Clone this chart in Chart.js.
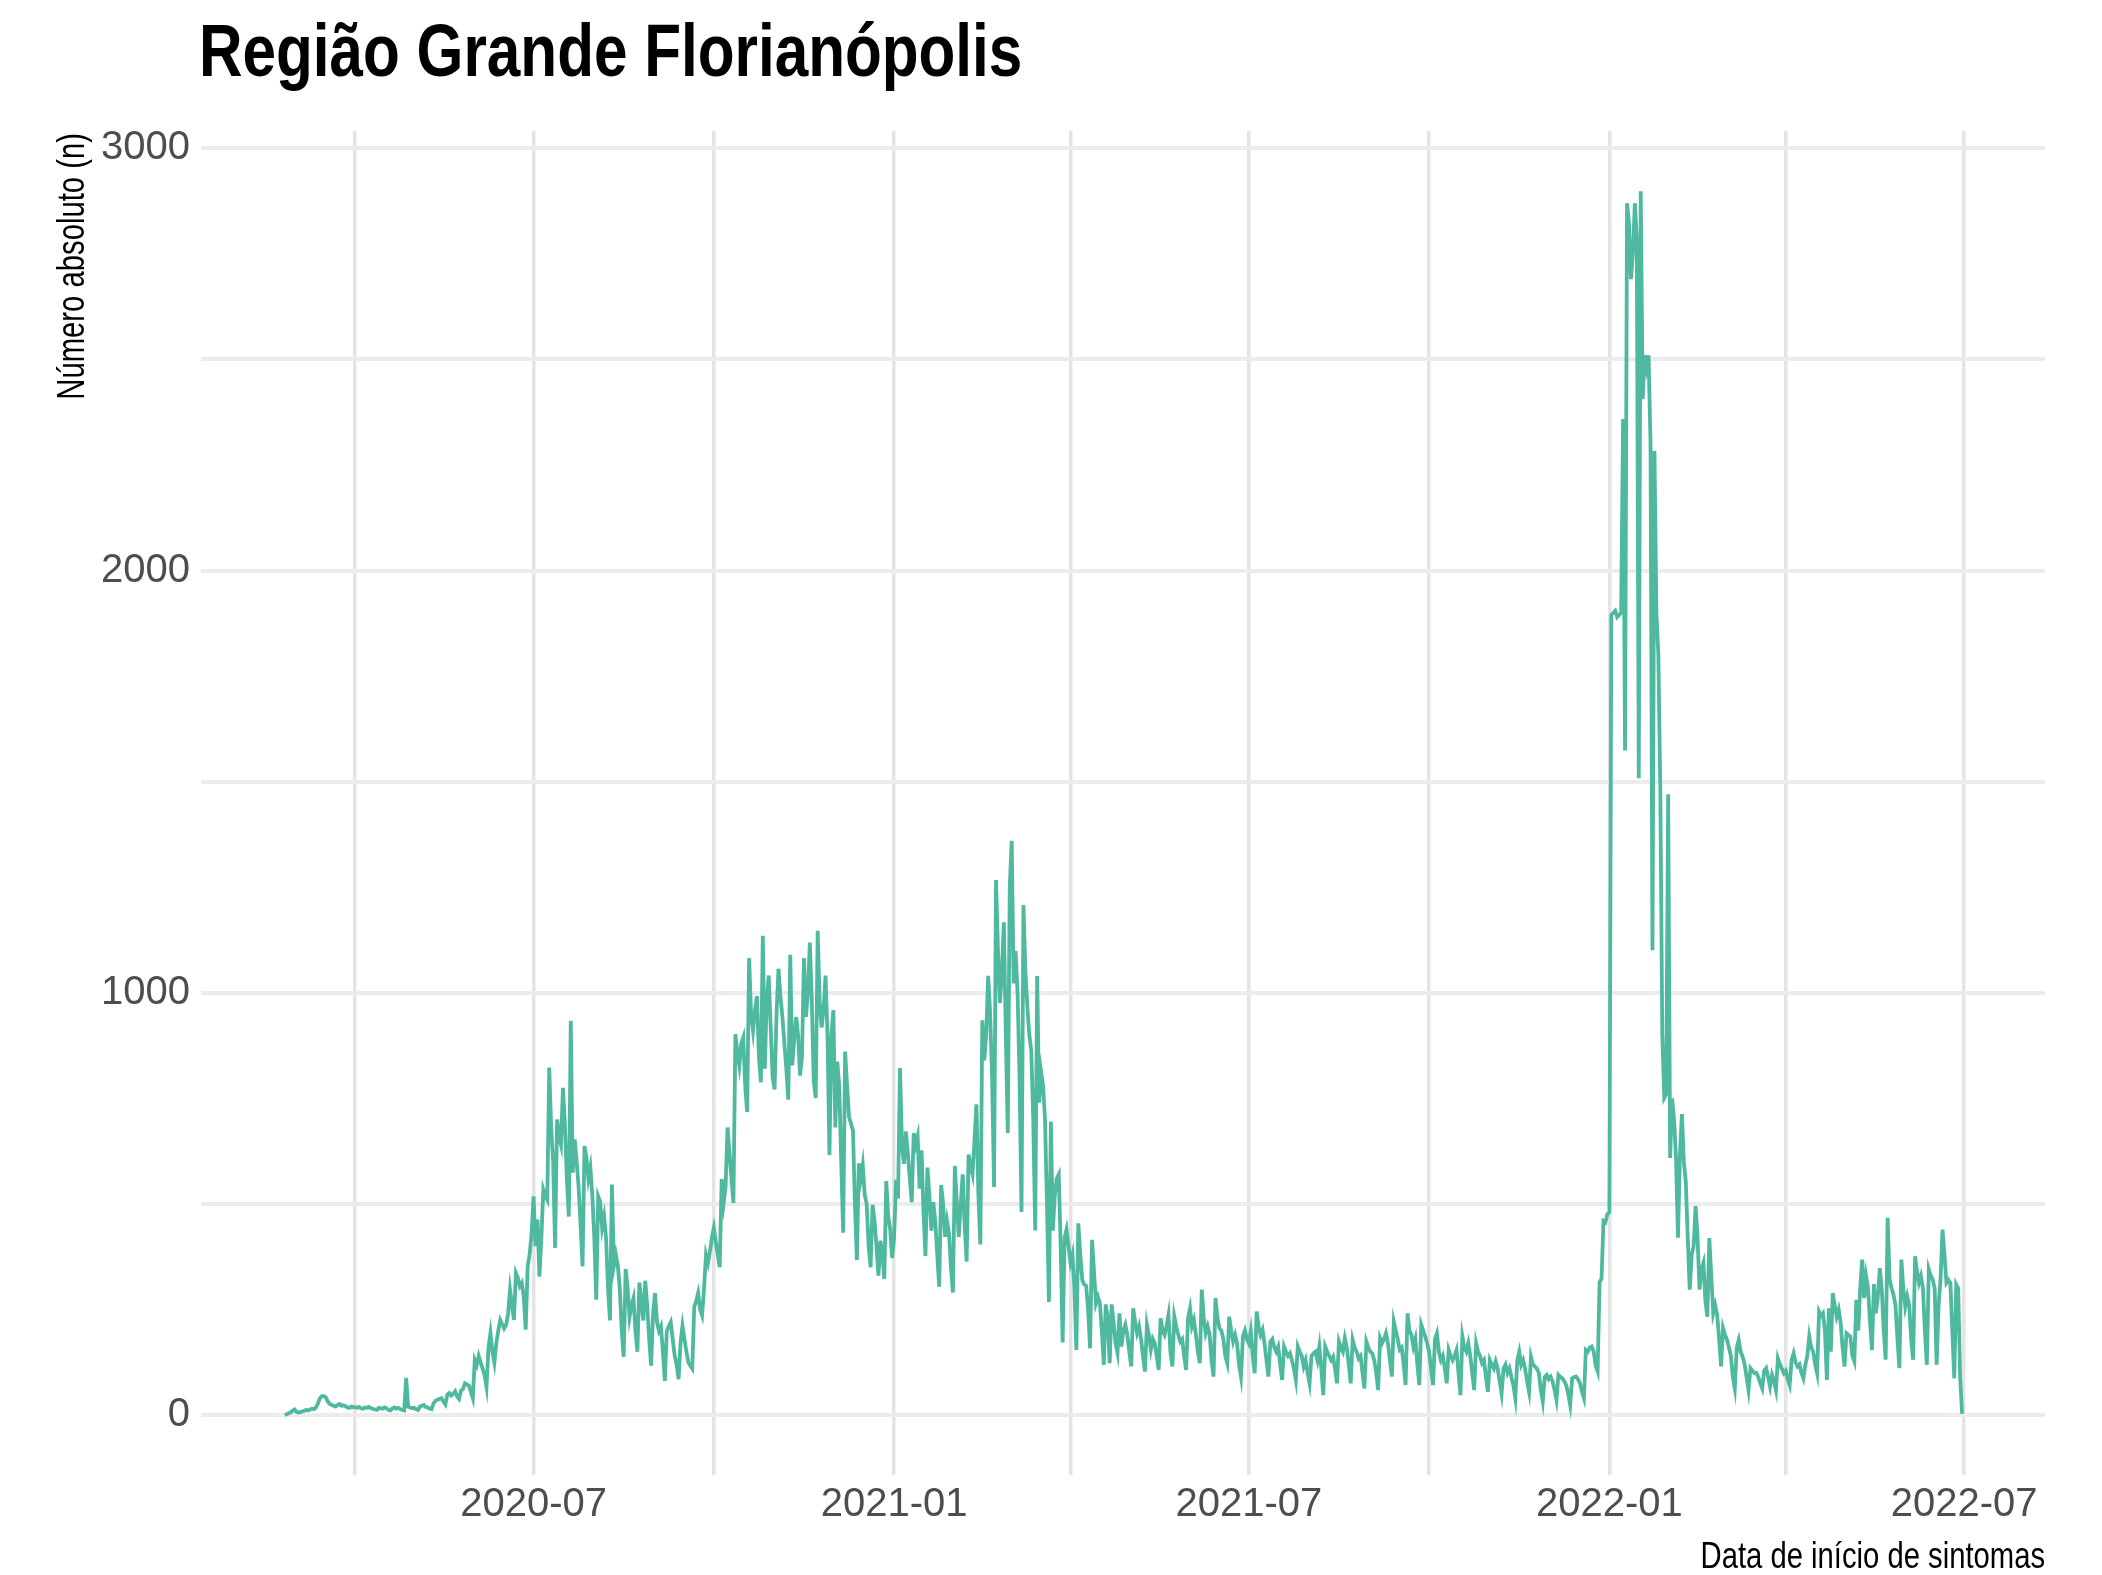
<!DOCTYPE html>
<html lang="pt-BR">
<head>
<meta charset="utf-8">
<title>Região Grande Florianópolis</title>
<script src="https://cdn.jsdelivr.net/npm/chart.js@4.4.1/dist/chart.umd.min.js"></script>
<style>
  html, body { margin: 0; padding: 0; background: #fff; }
  #grafico { display: block; width: 2102px; height: 1575px; }
</style>
</head>
<body>
<canvas id="grafico" width="2102" height="1575"></canvas>
<script>
// casos diarios por data de inicio de sintomas, a partir de 2020-02-25 (uma linha = uma semana seg..dom)
const inicio = '2020-02-25';
const casos = [
  0, 2, 4, 6, 10, 13,
  8, 6, 7, 9, 10, 12, 11,
  13, 15, 14, 18, 28, 40, 45,
  45, 42, 32, 26, 24, 22, 20,
  24, 26, 22, 23, 21, 18, 17,
  20, 19, 18, 17, 19, 16, 15,
  18, 17, 19, 16, 15, 13, 12,
  17, 16, 15, 18, 16, 12, 11,
  16, 18, 15, 17, 14, 12, 11,
  88, 20, 18, 16, 17, 14, 12,
  20, 22, 24, 19, 18, 15, 14,
  28, 34, 36, 38, 40, 32, 25,
  48, 52, 46, 50, 56, 44, 38,
  58, 62, 75, 72, 70, 55, 40,
  130, 118, 140, 125, 110, 95, 67,
  160, 194, 150, 124, 170, 200, 225,
  215, 205, 213, 240, 297, 260, 225,
  336, 325, 305, 313, 280, 202, 352,
  380, 430, 518, 400, 463, 328, 420,
  534, 520, 510, 823, 680, 600, 396,
  700, 660, 640, 775, 690, 560, 470,
  934, 574, 653, 600, 540, 450, 352,
  637, 610, 560, 586, 520, 420, 273,
  518, 505, 444, 470, 420, 300, 224,
  546, 354, 380, 354, 300, 200, 138,
  346, 300, 232, 260, 277, 200, 150,
  314, 270, 224, 318, 260, 180, 117,
  240, 289, 220, 199, 210, 150, 81,
  199, 210, 220, 180, 141, 120, 85,
  170, 211, 180, 150, 125, 117, 110,
  256, 270, 289, 250, 236, 300, 379,
  360, 387, 420, 444, 410, 380, 350,
  559, 502, 540, 681, 620, 560, 502,
  902, 860, 828, 880, 894, 780, 718,
  1082, 950, 910, 960, 992, 850, 788,
  1135, 820, 980, 1041, 920, 800, 771,
  950, 1057, 990, 943, 880, 820, 747,
  1090, 828, 890, 943, 900, 804, 850,
  1082, 943, 1000, 1119, 980, 790, 751,
  1147, 980, 918, 960, 1041, 900, 616,
  900, 959, 681, 837, 780, 600, 432,
  861, 780, 706, 690, 674, 500, 367,
  596, 560, 592, 522, 500, 400, 350,
  498, 460, 400, 330, 413, 380, 322,
  554, 470, 440, 372, 420, 557, 513,
  822, 640, 595, 672, 620, 560, 504,
  668, 640, 660, 536, 627, 480, 377,
  586, 520, 437, 504, 460, 380, 304,
  545, 500, 422, 460, 430, 350, 290,
  590, 500, 422, 500, 570, 450, 363,
  617, 590, 570, 650, 736, 520, 404,
  935, 840, 900, 1040, 950, 800, 540,
  1267, 1100, 976, 1050, 1167, 900, 668,
  1250, 1360, 1022, 1099, 1000, 800, 481,
  1208, 1050, 967, 900, 863, 700, 437,
  1040, 740, 813, 780, 700, 500, 268,
  695, 437, 520, 560, 570, 400, 172,
  420, 440, 400, 361, 380, 300, 154,
  454, 380, 320, 309, 306, 250, 158,
  415, 340, 265, 280, 265, 200, 119,
  262, 230, 123, 262, 220, 170, 147,
  241, 162, 200, 214, 190, 150, 115,
  253, 220, 194, 210, 180, 140, 103,
  214, 190, 155, 180, 170, 140, 107,
  229, 200, 190, 210, 237, 150, 115,
  233, 210, 190, 174, 180, 140, 107,
  230, 253, 210, 225, 190, 150, 123,
  297, 230, 194, 210, 190, 130, 91,
  277, 230, 206, 200, 180, 140, 123,
  233, 200, 174, 190, 170, 120, 91,
  186, 200, 180, 170, 198, 140, 99,
  245, 210, 190, 202, 170, 130, 91,
  174, 180, 160, 150, 162, 120, 83,
  162, 150, 140, 146, 130, 110, 83,
  162, 150, 140, 115, 130, 100, 75,
  140, 146, 150, 130, 162, 110, 47,
  162, 150, 140, 130, 138, 110, 75,
  174, 160, 150, 182, 160, 120, 75,
  178, 160, 150, 134, 140, 100, 63,
  174, 160, 150, 146, 130, 100, 59,
  182, 170, 180, 194, 170, 130, 91,
  221, 200, 180, 155, 160, 120, 71,
  241, 200, 190, 162, 180, 120, 71,
  214, 200, 186, 170, 150, 110, 71,
  180, 194, 150, 130, 140, 110, 75,
  154, 140, 130, 140, 154, 100, 47,
  186, 160, 150, 170, 140, 100, 59,
  170, 150, 140, 123, 130, 90, 55,
  130, 119, 110, 127, 110, 80, 51,
  111, 120, 100, 111, 90, 70, 40,
  130, 150, 119, 130, 110, 80, 55,
  138, 120, 115, 110, 100, 60, 32,
  90, 95, 85, 91, 80, 60, 36,
  95, 90, 87, 80, 70, 50, 24,
  87, 90, 91, 85, 75, 55, 40,
  154, 150, 160, 162, 150, 117, 103,
  315, 323, 460, 457, 476, 480, 1895,
  1900, 1905, 1890, 1895, 1900, 2359, 1574,
  2870, 2823, 2690, 2750, 2870, 2785, 1508,
  2898, 2406, 2510, 2480, 2510, 2300, 1101,
  2283, 1900, 1800, 1479, 900, 751, 760,
  1470, 609, 750, 700, 609, 420, 613,
  713, 600, 552, 420, 297, 380, 400,
  495, 420, 297, 344, 360, 270, 233,
  419, 330, 241, 260, 237, 180, 115,
  206, 190, 178, 160, 140, 90, 63,
  160, 178, 150, 138, 120, 90, 59,
  111, 105, 99, 100, 90, 75, 63,
  105, 111, 90, 67, 95, 80, 59,
  134, 120, 110, 99, 105, 85, 71,
  130, 146, 125, 115, 120, 100, 87,
  119, 140, 186, 160, 150, 120, 99,
  245, 235, 241, 200, 83, 253, 150,
  289, 260, 233, 250, 220, 160, 115,
  194, 190, 186, 140, 127, 273, 200,
  300, 368, 277, 329, 300, 220, 154,
  310, 241, 280, 348, 300, 200, 131,
  467, 321, 300, 285, 260, 180, 111,
  368, 300, 257, 281, 260, 180, 131,
  376, 340, 313, 329, 300, 200, 119,
  345, 330, 321, 300, 119, 260, 321,
  439, 380, 313, 320, 313, 200, 87,
  309, 300, 90, 3
];

const datasMarcasX = ['2020-04-01', '2020-07-01', '2020-10-01', '2021-01-01', '2021-04-01',
  '2021-07-01', '2021-10-01', '2022-01-01', '2022-04-01', '2022-07-01'];
const rotulosX = ['', '2020-07', '', '2021-01', '', '2021-07', '', '2022-01', '', '2022-07'];
const marcasY = [0, 500, 1000, 1500, 2000, 2500, 3000];
const rotulosY = ['0', '', '1000', '', '2000', '', '3000'];

const titulo = 'Região Grande Florianópolis';
const tituloX = 'Data de início de sintomas';
const tituloY = 'Número absoluto (n)';

const fonteNormal = "'Liberation Sans', Arial, sans-serif";

function diasDesde(data) {
    return Math.round((Date.parse(data) - Date.parse(inicio)) / 86400000);
}

const marcasX = datasMarcasX.map(diasDesde);
const pontos = casos.map((v, i) => ({ x: i, y: v }));

// sem fonte estreita instalada: titulos desenhados com escala horizontal
const textosEstreitos = {
    id: 'textosEstreitos',
    afterDraw(chart) {
        const { ctx, chartArea } = chart;
        ctx.save();
        ctx.fillStyle = '#000';
        ctx.textBaseline = 'alphabetic';

        ctx.save();
        ctx.font = 'bold 74px ' + fonteNormal;
        ctx.textAlign = 'left';
        ctx.translate(chartArea.left - 2, 76);
        ctx.scale(0.814, 1);
        ctx.fillText(titulo, 0, 0);
        ctx.restore();

        ctx.save();
        ctx.font = '37px ' + fonteNormal;
        ctx.textAlign = 'right';
        ctx.translate(chartArea.right, 1568);
        ctx.scale(0.79, 1);
        ctx.fillText(tituloX, 0, 0);
        ctx.restore();

        ctx.save();
        ctx.font = '38px ' + fonteNormal;
        ctx.textAlign = 'right';
        ctx.translate(84, chartArea.top + 2);
        ctx.rotate(-Math.PI / 2);
        ctx.scale(0.77, 1);
        ctx.fillText(tituloY, 0, 0);
        ctx.restore();

        ctx.restore();
    }
};

const ctx = document.getElementById('grafico').getContext('2d');

new Chart(ctx, {
    type: 'line',
    data: {
        datasets: [{
            label: 'Casos',
            data: pontos,
            borderColor: '#4fb9a0',
            borderWidth: 3.8,
            pointRadius: 0,
            tension: 0,
            fill: false
        }]
    },
    options: {
        responsive: false,
        devicePixelRatio: 1,
        animation: false,
        layout: { padding: { left: 0, right: 57, top: 131, bottom: 0 } },
        plugins: {
            legend: { display: false },
            tooltip: { enabled: false },
            title: { display: false }
        },
        scales: {
            x: {
                type: 'linear',
                min: -42.7,
                max: 898.3,
                afterBuildTicks: (escala) => { escala.ticks = marcasX.map(v => ({ value: v })); },
                afterFit: (escala) => { escala.height = 100; },
                border: { display: false },
                grid: { color: '#e4e4e4', lineWidth: 3.5, drawTicks: false },
                ticks: {
                    autoSkip: false,
                    maxRotation: 0,
                    padding: 6,
                    color: '#4d4d4d',
                    font: { family: fonteNormal, size: 40 },
                    callback: (valor, i) => rotulosX[i]
                },
                title: { display: false }
            },
            y: {
                min: -142,
                max: 3041,
                afterBuildTicks: (escala) => { escala.ticks = marcasY.map(v => ({ value: v })); },
                afterFit: (escala) => { escala.width = 201; },
                border: { display: false },
                grid: { color: '#ececec', lineWidth: 4, drawTicks: false },
                ticks: {
                    padding: 11,
                    color: '#4d4d4d',
                    font: { family: fonteNormal, size: 40 },
                    callback: (valor, i) => rotulosY[i]
                },
                title: { display: false }
            }
        }
    },
    plugins: [textosEstreitos]
});
</script>
</body>
</html>
